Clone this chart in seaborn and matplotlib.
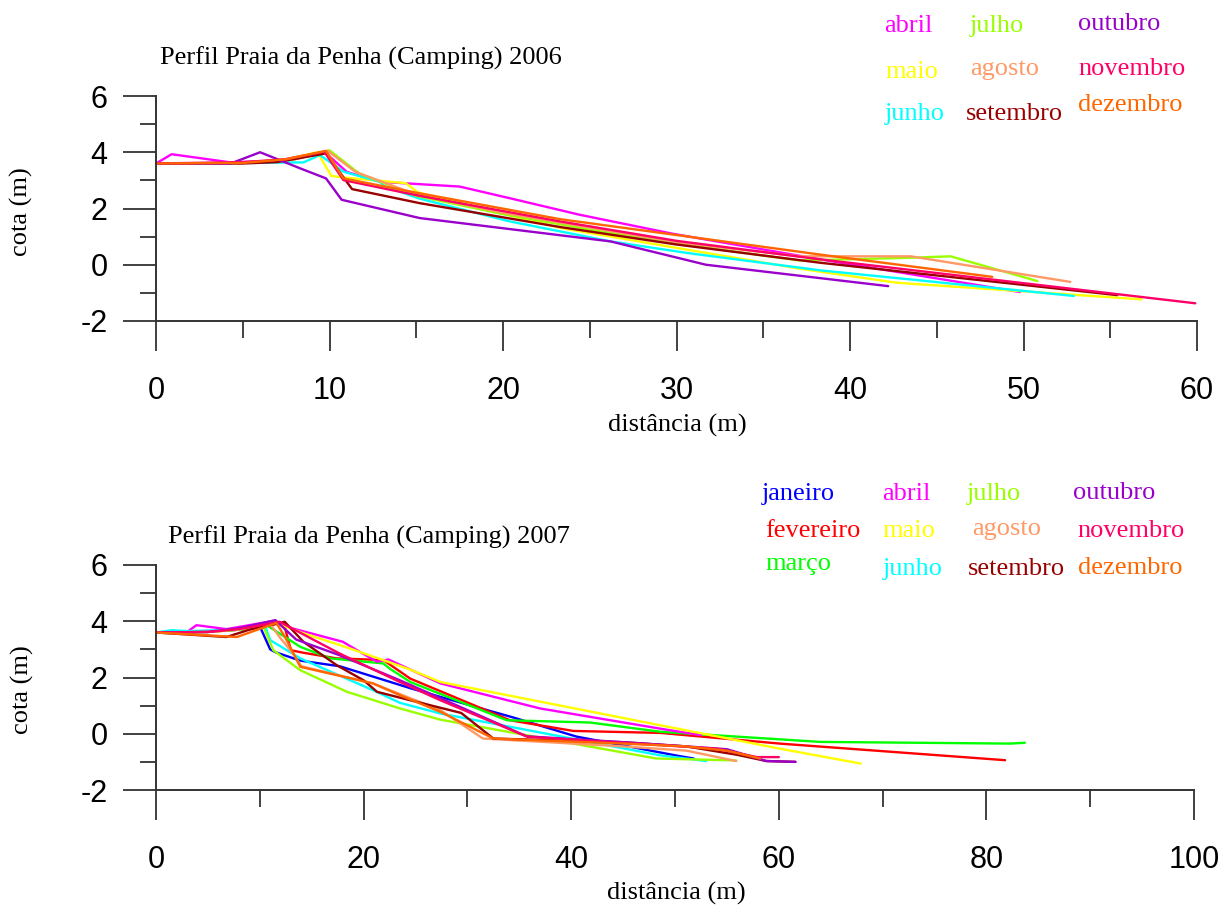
import matplotlib
matplotlib.use("Agg")
import matplotlib.pyplot as plt
from matplotlib.ticker import MultipleLocator
import pandas as pd
import seaborn as sns

# ---- 2006 survey: distance from reference mark (m) and elevation (m) ----
abril06_x = [0, 0.9, 4.3, 7.0, 9.7, 11.0, 12.9, 17.5, 20.5, 24.4, 29.8, 38.3, 49.8]
abril06_y = [3.6, 3.93, 3.64, 3.7, 4.02, 3.3, 2.95, 2.78, 2.35, 1.78, 1.1, 0.19, -0.97]
maio06_x = [0, 5.0, 7.5, 9.3, 10.1, 10.7, 14.4, 15.1, 23.3, 30.0, 37.1, 42.7, 56.8]
maio06_y = [3.6, 3.62, 3.75, 4.0, 3.16, 3.11, 2.9, 2.57, 1.31, 0.6, -0.14, -0.64, -1.23]
junho06_x = [0, 5.0, 8.5, 9.45, 10.8, 12.9, 13.2, 15.2, 20.4, 26.2, 30.6, 38.3, 52.9]
junho06_y = [3.6, 3.62, 3.64, 3.9, 3.31, 2.95, 2.78, 2.35, 1.54, 0.83, 0.42, -0.2, -1.11]
julho06_x = [0, 5.0, 8.0, 10.0, 11.7, 15.0, 20.0, 25.0, 30.0, 37.1, 43.5, 45.8, 50.8]
julho06_y = [3.6, 3.62, 3.75, 4.07, 3.25, 2.45, 1.8, 1.25, 0.75, 0.15, 0.25, 0.3, -0.58]
agosto06_x = [0, 5.0, 8.0, 9.9, 11.5, 15.0, 20.0, 30.0, 37.1, 43.5, 52.7]
agosto06_y = [3.6, 3.62, 3.75, 4.05, 3.3, 2.5, 1.85, 0.8, 0.3, 0.3, -0.61]
setembro06_x = [0, 5.0, 7.0, 9.8, 11.3, 15.2, 23.3, 30.0, 38.3, 55.4]
setembro06_y = [3.6, 3.6, 3.65, 3.96, 2.69, 2.19, 1.34, 0.72, 0.07, -1.08]
outubro06_x = [0, 4.3, 6.0, 8.3, 9.8, 10.7, 15.2, 26.2, 31.7, 42.2]
outubro06_y = [3.6, 3.6, 4.0, 3.43, 3.07, 2.31, 1.66, 0.83, 0.0, -0.76]
novembro06_x = [0, 5.0, 7.5, 9.7, 10.8, 15.2, 23.3, 30.0, 38.3, 59.9]
novembro06_y = [3.6, 3.65, 3.75, 4.02, 3.01, 2.45, 1.54, 0.85, 0.19, -1.37]
dezembro06_x = [0, 5.0, 7.5, 9.8, 10.8, 15.2, 23.3, 38.3, 48.2]
dezembro06_y = [3.6, 3.62, 3.75, 4.05, 3.07, 2.54, 1.62, 0.36, -0.43]

# ---- 2007 survey ----
janeiro07_x = [0, 4.0, 8.0, 10.0, 11.0, 11.5, 13.9, 17.7, 24.5, 27.4, 34.4, 40.5, 50.5, 51.8]
janeiro07_y = [3.6, 3.62, 3.7, 3.82, 3.0, 2.9, 2.6, 2.4, 1.62, 1.31, 0.58, -0.1, -0.8, -0.88]
fevereiro07_x = [0, 5.0, 8.0, 12.3, 13.0, 14.2, 17.4, 21.9, 24.5, 34.1, 40.2, 48.6, 60.1, 81.8]
fevereiro07_y = [3.6, 3.62, 3.7, 3.94, 2.97, 2.88, 2.68, 2.62, 1.96, 0.48, 0.1, 0.03, -0.35, -0.94]
marco07_x = [0, 5.0, 8.0, 10.5, 13.9, 16.8, 21.9, 22.5, 24.5, 33.8, 41.8, 48.6, 64.0, 82.3, 83.7]
marco07_y = [3.6, 3.62, 3.72, 3.9, 3.09, 2.68, 2.5, 2.32, 1.84, 0.48, 0.4, 0.07, -0.29, -0.35, -0.32]
abril07_x = [0, 3.0, 3.9, 6.8, 11.3, 13.2, 18.0, 19.0, 21.3, 22.4, 27.4, 37.0, 48.6, 52.5]
abril07_y = [3.6, 3.62, 3.86, 3.72, 4.01, 3.74, 3.27, 3.05, 2.56, 2.64, 1.79, 0.9, 0.18, -0.05]
maio07_x = [0, 5.0, 9.0, 11.5, 14.0, 18.7, 24.5, 27.4, 48.6, 60.1, 67.9]
maio07_y = [3.6, 3.62, 3.75, 3.95, 3.6, 3.03, 2.28, 1.84, 0.3, -0.53, -1.06]
junho07_x = [0, 1.5, 3.0, 8.0, 10.5, 11.0, 13.9, 20.9, 23.5, 27.4, 48.6, 53.0]
junho07_y = [3.6, 3.68, 3.65, 3.7, 3.85, 3.33, 2.68, 1.55, 1.1, 0.72, -0.77, -0.97]
julho07_x = [0, 5.0, 8.0, 10.3, 11.3, 13.9, 18.4, 23.5, 27.4, 48.2, 55.9]
julho07_y = [3.6, 3.62, 3.7, 3.85, 2.97, 2.26, 1.49, 0.9, 0.5, -0.88, -0.95]
agosto07_x = [0, 5.0, 8.0, 11.1, 11.9, 13.2, 14.0, 20.9, 27.4, 31.5, 45.0, 51.1, 55.9]
agosto07_y = [3.6, 3.62, 3.72, 3.86, 3.44, 2.85, 2.4, 1.79, 0.84, -0.17, -0.45, -0.6, -0.97]
setembro07_x = [0, 6.8, 9.0, 12.4, 14.2, 17.4, 20.0, 21.3, 24.5, 29.4, 32.5, 45.0, 51.1, 56.0, 58.8, 61.6]
setembro07_y = [3.6, 3.44, 3.7, 3.98, 3.27, 2.44, 1.9, 1.49, 1.19, 0.74, -0.17, -0.3, -0.45, -0.75, -0.97, -1.0]
outubro07_x = [0, 5.0, 8.0, 11.5, 13.5, 17.7, 23.5, 35.7, 45.0, 51.1, 55.0, 58.8, 61.6]
outubro07_y = [3.6, 3.62, 3.75, 4.04, 3.35, 2.79, 1.9, -0.09, -0.3, -0.45, -0.55, -0.97, -1.0]
novembro07_x = [0, 5.0, 8.0, 11.9, 17.7, 23.5, 27.4, 35.8, 54.0, 57.9, 60.0]
novembro07_y = [3.6, 3.62, 3.72, 3.98, 2.85, 1.84, 1.19, -0.11, -0.53, -0.83, -0.83]
dezembro07_x = [0, 7.8, 11.6, 12.5, 13.9, 20.9, 23.5, 27.4, 32.5, 45.0, 51.1, 55.0, 58.2]
dezembro07_y = [3.6, 3.44, 3.94, 3.39, 2.38, 1.79, 1.37, 0.78, -0.17, -0.35, -0.45, -0.6, -0.88]

meses06 = ["abril", "maio", "junho", "julho", "agosto", "setembro",
           "outubro", "novembro", "dezembro"]
meses07 = ["janeiro", "fevereiro", "março"] + meses06

cores = {
    "janeiro": "#0000FF", "fevereiro": "#FF0000", "março": "#00FF00",
    "abril": "#FF00FF", "maio": "#FFFF00", "junho": "#00FFFF",
    "julho": "#99FF00", "agosto": "#FF9966", "setembro": "#990000",
    "outubro": "#9900CC", "novembro": "#FF0066", "dezembro": "#FF6600",
}

perfis06 = [(abril06_x, abril06_y), (maio06_x, maio06_y), (junho06_x, junho06_y),
            (julho06_x, julho06_y), (agosto06_x, agosto06_y),
            (setembro06_x, setembro06_y), (outubro06_x, outubro06_y),
            (novembro06_x, novembro06_y), (dezembro06_x, dezembro06_y)]
perfis07 = [(janeiro07_x, janeiro07_y), (fevereiro07_x, fevereiro07_y),
            (marco07_x, marco07_y), (abril07_x, abril07_y), (maio07_x, maio07_y),
            (junho07_x, junho07_y), (julho07_x, julho07_y), (agosto07_x, agosto07_y),
            (setembro07_x, setembro07_y), (outubro07_x, outubro07_y),
            (novembro07_x, novembro07_y), (dezembro07_x, dezembro07_y)]


def tabela(meses, perfis):
    partes = []
    for mes, (xs, ys) in zip(meses, perfis):
        partes.append(pd.DataFrame({"mes": mes, "distancia": xs, "cota": ys}))
    return pd.concat(partes, ignore_index=True)


sns.set_theme(style="white")
plt.rcParams["font.family"] = ["Liberation Sans", "DejaVu Sans"]
plt.rcParams["axes.unicode_minus"] = False
plt.rcParams["text.color"] = "black"
plt.rcParams["axes.labelcolor"] = "black"
SERIF = ["Liberation Serif", "DejaVu Serif"]

W, H = 1232, 908
fig = plt.figure(figsize=(W / 100, H / 100), dpi=100)
fig.patch.set_facecolor("white")


def eixo(px_left, px_right, px_top, px_bottom):
    return fig.add_axes([px_left / W, 1 - px_bottom / H,
                         (px_right - px_left) / W, (px_bottom - px_top) / H])


def estilo(ax, xmax, xmaj, xmin, ylab_y):
    ax.set_xlim(0, xmax)
    ax.set_ylim(-2, 6)
    sns.despine(ax=ax)
    for s in ("left", "bottom"):
        ax.spines[s].set_linewidth(1.4)
        ax.spines[s].set_color("#333333")
    ax.xaxis.set_major_locator(MultipleLocator(xmaj))
    ax.xaxis.set_minor_locator(MultipleLocator(xmin))
    ax.yaxis.set_major_locator(MultipleLocator(2))
    ax.yaxis.set_minor_locator(MultipleLocator(1))
    ax.tick_params(axis="both", which="both", direction="out", color="#333333",
                   width=1.3, labelcolor="black")
    ax.tick_params(axis="y", which="major", length=24, pad=11, labelsize=22, left=True)
    ax.tick_params(axis="y", which="minor", length=11.5, left=True)
    ax.tick_params(axis="x", which="major", length=21.5, pad=18, labelsize=22, bottom=True)
    ax.tick_params(axis="x", which="minor", length=12, bottom=True)
    ax.set_xlabel("distância (m)", family=SERIF, fontsize=19, va="center")
    ax.set_ylabel("cota (m)", family=SERIF, fontsize=19, va="center")
    ax.yaxis.set_label_coords(-0.129, ylab_y)


def desenha(ax, meses, perfis):
    sns.lineplot(data=tabela(meses, perfis), x="distancia", y="cota", hue="mes",
                 hue_order=meses, palette=cores, sort=False, estimator=None,
                 linewidth=1.7, legend=False, ax=ax)


# ---- 2006 panel ----
ax1 = eixo(156, 1197, 96, 321)
desenha(ax1, meses06, perfis06)
estilo(ax1, 60, 10, 5, 0.484)
ax1.xaxis.set_label_coords(0.501, (321 - 425) / 225)
fig.text(160 / W, 1 - 58 / H, "Perfil Praia da Penha (Camping) 2006",
         family=SERIF, fontsize=19, ha="left", va="center")

leg06 = [("abril", 884, 32), ("julho", 970, 32), ("outubro", 1078, 30),
         ("maio", 885, 78), ("agosto", 970, 75), ("novembro", 1078, 75),
         ("junho", 885, 120), ("setembro", 966, 120), ("dezembro", 1078, 111)]
for nome, px, py in leg06:
    fig.text(px / W, 1 - py / H, nome, color=cores[nome], family=SERIF,
             fontsize=19, ha="left", va="baseline")

# ---- 2007 panel ----
ax2 = eixo(156, 1194, 565, 790)
desenha(ax2, meses07, perfis07)
estilo(ax2, 100, 20, 10, 0.444)
ax2.xaxis.set_label_coords(0.501, (790 - 893) / 225)
fig.text(168 / W, 1 - 537 / H, "Perfil Praia da Penha (Camping) 2007",
         family=SERIF, fontsize=19, ha="left", va="center")

leg07 = [("janeiro", 762, 500), ("abril", 882, 500), ("julho", 967, 500),
         ("outubro", 1073, 499), ("fevereiro", 765, 537), ("maio", 882, 537),
         ("agosto", 972, 535), ("novembro", 1077, 537), ("março", 765, 570),
         ("junho", 883, 575), ("setembro", 968, 575), ("dezembro", 1078, 574)]
for nome, px, py in leg07:
    fig.text(px / W, 1 - py / H, nome, color=cores[nome], family=SERIF,
             fontsize=19, ha="left", va="baseline")

fig.savefig("out.png", dpi=100, facecolor="white")
